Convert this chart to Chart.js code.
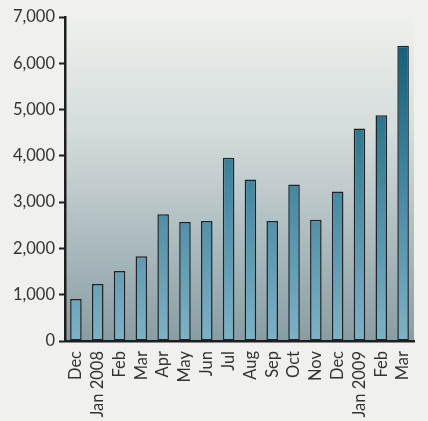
<!DOCTYPE html>
<html>
<head>
<meta charset="utf-8">
<script src="https://cdn.jsdelivr.net/npm/chart.js@4.4.1/dist/chart.umd.min.js"></script>
<style>
    html, body { margin: 0; padding: 0; background: #f0f1ed; }
    #wrap { width: 428px; height: 421px; position: relative; }
</style>
</head>
<body>
<div id="wrap"><canvas id="monthlyChart"></canvas></div>
<script>
// Monthly totals, Dec 2007 - Mar 2009
const months = ['Dec', 'Jan 2008', 'Feb', 'Mar', 'Apr', 'May', 'Jun', 'Jul', 'Aug', 'Sep', 'Oct', 'Nov', 'Dec', 'Jan 2009', 'Feb', 'Mar'];
const totals = [910, 1230, 1510, 1830, 2740, 2570, 2590, 3960, 3490, 2590, 3380, 2620, 3230, 4590, 4880, 6380];
const yTicks = [0, 1000, 2000, 3000, 4000, 5000, 6000, 7000];

const textColor = '#333333';
const axisColor = '#1e1e1e';

// shade the plot area from pale at the top to grey-blue at the bottom
const plotBackground = {
    id: 'plotBackground',
    beforeDraw(chart) {
        const { ctx, chartArea: a } = chart;
        const g = ctx.createLinearGradient(0, a.top, 0, a.bottom);
        g.addColorStop(0, '#eef0ec');
        g.addColorStop(0.35, '#d4dcdc');
        g.addColorStop(1, '#889da3');
        ctx.save();
        ctx.fillStyle = g;
        ctx.fillRect(a.left, a.top, a.right - a.left, a.bottom - a.top);
        ctx.restore();
    }
};

function barFill(context) {
    const area = context.chart.chartArea;
    if (!area) return '#4a8aa5';
    const g = context.chart.ctx.createLinearGradient(0, area.top, 0, area.bottom);
    g.addColorStop(0, '#045a76');
    g.addColorStop(1, '#7db2c8');
    return g;
}

const monthlyChart = new Chart(document.getElementById('monthlyChart'), {
    type: 'bar',
    data: {
        labels: months,
        datasets: [{
            data: totals,
            backgroundColor: barFill,
            borderColor: '#222',
            borderWidth: 1.5,
            borderSkipped: false,
            categoryPercentage: 1,
            barPercentage: 0.53
        }]
    },
    options: {
        responsive: true,
        maintainAspectRatio: false,
        animation: false,
        layout: { padding: { top: 17, right: 14, left: 0, bottom: 0 } },
        plugins: {
            legend: { display: false },
            tooltip: { enabled: false }
        },
        scales: {
            x: {
                grid: { display: false },
                border: { display: true, color: axisColor, width: 2.5 },
                ticks: {
                    color: textColor,
                    font: { family: 'Lato', size: 16.5 },
                    minRotation: 90,
                    maxRotation: 90,
                    autoSkip: false,
                    padding: 2
                },
                afterFit(scale) { scale.height = 80; }
            },
            y: {
                min: 0,
                max: 7000,
                afterBuildTicks(scale) { scale.ticks = yTicks.map(v => ({ value: v })); },
                grid: {
                    display: true,
                    drawOnChartArea: false,
                    drawTicks: true,
                    tickLength: 6,
                    tickWidth: 2,
                    tickColor: axisColor
                },
                border: { display: true, color: axisColor, width: 2.5 },
                ticks: {
                    color: textColor,
                    font: { family: 'Lato', size: 16.5 },
                    padding: 4,
                    callback: v => v.toLocaleString('en-US')
                },
                afterFit(scale) { scale.width = 65; }
            }
        }
    },
    plugins: [plotBackground]
});
</script>
</body>
</html>
